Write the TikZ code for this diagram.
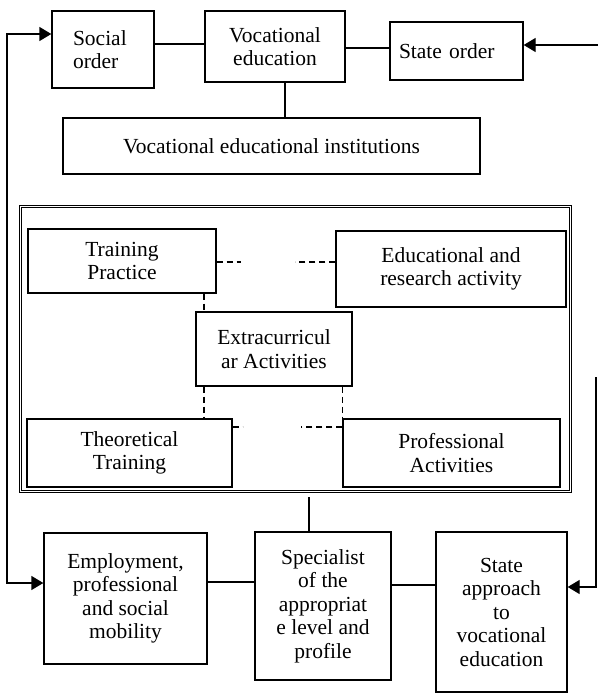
\documentclass[tikz,border=0pt]{standalone}
\usepackage{fontspec}
\setmainfont{Liberation Serif}
\usetikzlibrary{arrows.meta}

\begin{document}
\begin{tikzpicture}[x=1pt,y=-1pt,
  box/.style={draw, line width=1.3pt, align=center, inner sep=0pt, font=\fontsize{21.5}{23.5}\selectfont},
  actframe/.style={draw, line width=1pt, inner sep=0pt},
  link/.style={line width=1.3pt},
  dashline/.style={line width=1.3pt, dash pattern=on 6pt off 4pt},
  arr/.style={link, -{Triangle[length=12pt,width=14pt]}},
  biarr/.style={link, {Triangle[length=12pt,width=14pt]}-{Triangle[length=12pt,width=14pt]}}]

\useasboundingbox (0,0) rectangle (598,693);

% top row
\node[box, minimum width=102pt, minimum height=77pt, text width=60pt, align=left] (so) at (103,49.5) {Social\\order};
\node[box, minimum width=140pt, minimum height=71pt] (ve) at (275,46.5) {Vocational\\education};
\node[box, minimum width=133pt, minimum height=58pt, text width=115pt, align=left] (sto) at (456.5,51) {State order};
\node[box, minimum width=417pt, minimum height=56pt] (vei) at (271.5,146) {Vocational educational institutions};

% activities
\node[actframe, minimum width=552pt, minimum height=287pt] (act) at (295,348.5) {};
\node[actframe, minimum width=548pt, minimum height=283pt] (actin) at (295,348.5) {};
\node[box, minimum width=188pt, minimum height=64pt] (tp) at (122,261) {Training\\Practice};
\node[box, minimum width=230pt, minimum height=76pt] (era) at (451,269) {Educational and\\research activity};
\node[box, minimum width=156pt, minimum height=74pt] (ext) at (274,349) {Extracurricul\\ar Activities};
\node[box, minimum width=205pt, minimum height=68pt] (tt) at (129.5,453) {Theoretical\\Training};
\node[box, minimum width=217pt, minimum height=68pt] (pa) at (451.5,453) {Professional\\Activities};

% bottom row
\node[box, minimum width=163pt, minimum height=131pt] (emp) at (125.5,598.5) {Employment,\\professional\\and social\\mobility};
\node[box, minimum width=136pt, minimum height=148pt] (spec) at (323,606) {Specialist\\of the\\appropriat\\e level and\\profile};
\node[box, minimum width=131pt, minimum height=160pt] (sa) at (501.5,612) {State\\approach\\to\\vocational\\education};

% levels for the connectors
\coordinate (h1) at (0,44);
\coordinate (h2) at (0,48);
\coordinate (h3) at (0,34);
\coordinate (h4) at (0,583);
\coordinate (h5) at (0,262);
\coordinate (h6) at (0,427);
\coordinate (h7) at (0,582);
\coordinate (h8) at (0,585);
\coordinate (h9) at (0,587);
\coordinate (v1) at (285,0);
\coordinate (v2) at (204,0);
\coordinate (v3) at (309,0);
\coordinate (lft) at (7,0);
\coordinate (rgt) at (596,0);
\coordinate (rtop) at (598,45);
\coordinate (rbot) at (596,377);

\draw[link] (so.east |- h1) -- (ve.west |- h1);
\draw[link] (ve.east |- h2) -- (sto.west |- h2);
\draw[link] (ve.south -| v1) -- (vei.north -| v1);
\draw[arr] (rtop) -- (sto.east |- rtop);
\draw[biarr] (so.west |- h3) -- (lft |- h3) -- (lft |- h4) -- (emp.west |- h4);
\draw[arr] (rbot) -- (rgt |- h9) -- (sa.east |- h9);

\draw[dashline] (tp.east |- h5) -- ++(24,0);
\draw[dashline] (era.west |- h5) -- ++(-40,0);
\draw[dashline] (tp.south -| v2) -- (ext.north -| v2);
\draw[dashline] (ext.south -| v2) -- (tt.north -| v2);
\draw[dashline] (ext.south -| pa.west) -- (pa.north west);
\draw[dashline] (tt.east |- h6) -- ++(10,0);
\draw[dashline] (pa.west |- h6) -- ++(-41,0);

\draw[link] (spec.north -| v3) -- ++(0,-34);
\draw[link] (emp.east |- h7) -- (spec.west |- h7);
\draw[link] (spec.east |- h8) -- (sa.west |- h8);

\end{tikzpicture}
\end{document}
